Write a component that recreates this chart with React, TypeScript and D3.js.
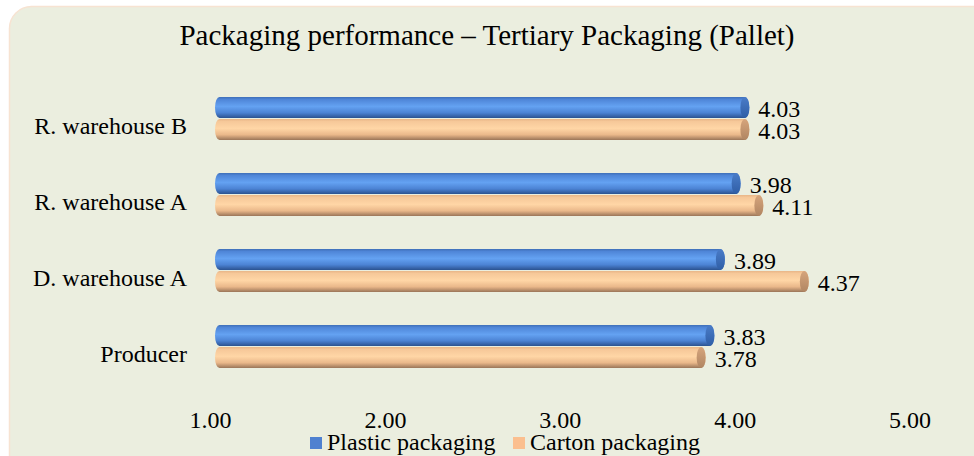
import React from "react";
import * as d3 from "d3";

const title = "Packaging performance – Tertiary Packaging (Pallet)";
const categories = ["R. warehouse B", "R. warehouse A", "D. warehouse A", "Producer"];
const plastic = [4.03, 3.98, 3.89, 3.83];
const carton = [4.03, 4.11, 4.37, 3.78];
const ticks = [1, 2, 3, 4, 5];
const seriesNames = ["Plastic packaging", "Carton packaging"];

const W = 974;
const H = 456;
const FONT = "'Liberation Serif', 'Times New Roman', serif";

export default function App() {
  const x = d3.scaleLinear().domain([1, 5]).range([210.5, 910]);
  const y = d3.scaleBand().domain(categories).range([80.5, 384.5]).paddingInner(0.42).paddingOuter(0.21);
  const barH = 21;
  const rx = 4.5;

  const series = [
    { name: seriesNames[0], values: plastic, grad: "gBlue", cap: "cBlue", sw: "#4f81d0" },
    { name: seriesNames[1], values: carton, grad: "gOrange", cap: "cOrange", sw: "#fbbf8f" },
  ];

  // cylinder body: rounded on both ends
  const cyl = (x0: number, x1: number, yy: number, h: number) =>
    `M${x0},${yy} L${x1},${yy} A${rx},${h / 2} 0 0 1 ${x1},${yy + h} L${x0},${yy + h} A${rx},${h / 2} 0 0 1 ${x0},${yy} Z`;

  return (
    <div style={{ position: "fixed", left: 0, top: 0 }}>
      <svg width={W} height={H} style={{ display: "block" }}>
        <defs>
          <linearGradient id="gBlue" x1="0" y1="0" x2="0" y2="1">
            <stop offset="0" stopColor="#3f6fb8" />
            <stop offset="0.12" stopColor="#4f86d8" />
            <stop offset="0.45" stopColor="#64a2f2" />
            <stop offset="0.75" stopColor="#4c83d4" />
            <stop offset="1" stopColor="#2b5290" />
          </linearGradient>
          <linearGradient id="cBlue" x1="0" y1="0" x2="0" y2="1">
            <stop offset="0" stopColor="#4a7cc8" />
            <stop offset="1" stopColor="#2f5ea6" />
          </linearGradient>
          <linearGradient id="gOrange" x1="0" y1="0" x2="0" y2="1">
            <stop offset="0" stopColor="#e8b587" />
            <stop offset="0.12" stopColor="#f6c899" />
            <stop offset="0.45" stopColor="#ffd6a6" />
            <stop offset="0.75" stopColor="#eab88a" />
            <stop offset="1" stopColor="#9a7558" />
          </linearGradient>
          <linearGradient id="cOrange" x1="0" y1="0" x2="0" y2="1">
            <stop offset="0" stopColor="#d6a57c" />
            <stop offset="1" stopColor="#b08562" />
          </linearGradient>
        </defs>
        <rect x={0} y={0} width={W} height={H} fill="#ffffff" />
        <rect x={9.5} y={6.5} width={W + 30} height={H + 30} rx={22} fill="#ebeedf" stroke="#f7e3d2" strokeWidth={1.5} />
        <text x={487} y={44.5} textAnchor="middle" fontFamily={FONT} fontSize={29} fill="#000">
          {title}
        </text>
        {categories.map((c, i) => {
          const y0 = y(c)!;
          const bandMid = y0 + y.bandwidth() / 2;
          return (
            <g key={c}>
              <text x={187} y={bandMid + 15.5} textAnchor="end" fontFamily={FONT} fontSize={24} fill="#000">
                {c}
              </text>
              {series.map((s, j) => {
                const v = s.values[i];
                const yy = bandMid - barH + j * (barH + 1) - 0.5;
                const x0 = x(1) + 2 * rx;
                const x1 = x(v) + rx;
                return (
                  <g key={s.name}>
                    <path d={cyl(x0, x1, yy, barH)} fill={`url(#${s.grad})`} />
                    <ellipse cx={x1} cy={yy + barH / 2} rx={rx} ry={barH / 2} fill={`url(#${s.cap})`} />
                    <text x={x(v) + 18} y={yy + barH - 1} fontFamily={FONT} fontSize={24} fill="#000">
                      {v.toFixed(2)}
                    </text>
                  </g>
                );
              })}
            </g>
          );
        })}
        {ticks.map((t) => (
          <text key={t} x={x(t)} y={428} textAnchor="middle" fontFamily={FONT} fontSize={24} fill="#000">
            {t.toFixed(2)}
          </text>
        ))}
        {series.map((s, j) => {
          const lx = j === 0 ? 310 : 513;
          return (
            <g key={s.name}>
              <rect x={lx} y={437} width={12} height={12} fill={s.sw} />
              <text x={lx + 17} y={450} fontFamily={FONT} fontSize={24} fill="#000">
                {s.name}
              </text>
            </g>
          );
        })}
      </svg>
    </div>
  );
}
